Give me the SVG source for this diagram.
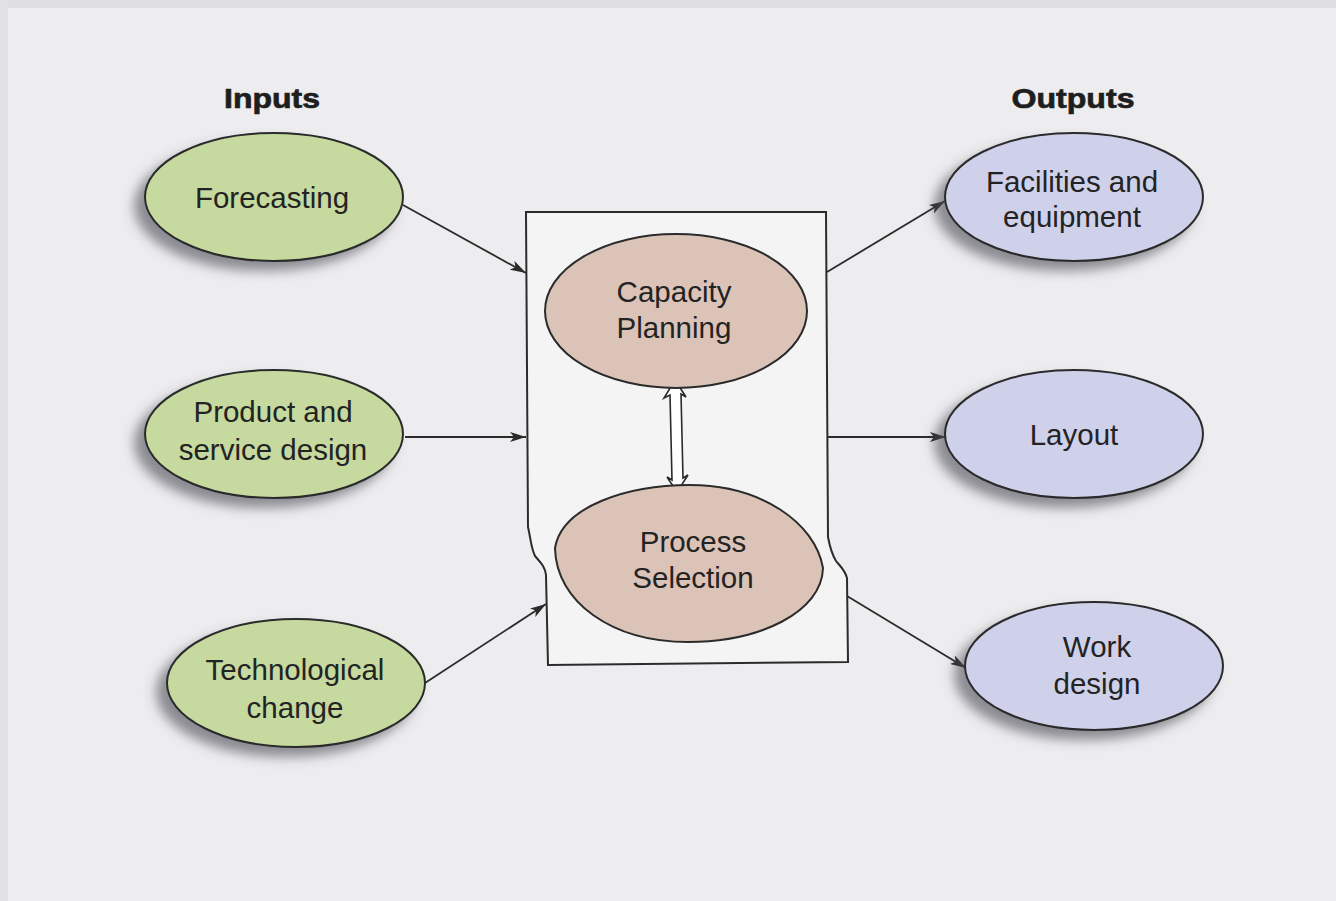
<svg xmlns="http://www.w3.org/2000/svg" width="1336" height="901" viewBox="0 0 1336 901">
  <style>
    .lbl { font-family: "Liberation Sans", Arial, sans-serif; font-size: 29.5px; fill: #232323; text-anchor: middle; }
    .head { font-family: "Liberation Sans", Arial, sans-serif; font-size: 28px; font-weight: bold; fill: #1e1e1e; stroke: #1e1e1e; stroke-width: 0.7; text-anchor: middle; }
    .in { fill: #c6d99f; stroke: #2b2b2b; stroke-width: 2; }
    .out { fill: #cfd0ea; stroke: #2b2b2b; stroke-width: 2; }
    .core { fill: #dbc3b8; stroke: #2b2b2b; stroke-width: 2; }
    .edge { fill: none; stroke: #2b2b2b; stroke-width: 1.8; marker-end: url(#arrow); }
  </style>
  <defs>
    <marker id="arrow" markerUnits="userSpaceOnUse" markerWidth="18" markerHeight="10" refX="16" refY="5" orient="auto">
      <path d="M0,0 L16,5 L0,10 L4,5 Z" fill="#2b2b2b"/>
    </marker>
    <filter id="shadow" x="-20%" y="-20%" width="140%" height="160%">
      <feGaussianBlur in="SourceAlpha" stdDeviation="6"/>
      <feOffset dx="-10" dy="9" result="b"/>
      <feFlood flood-color="#4a4a55" flood-opacity="0.6"/>
      <feComposite in2="b" operator="in"/>
      <feMerge>
        <feMergeNode/>
        <feMergeNode in="SourceGraphic"/>
      </feMerge>
    </filter>
  </defs>

  <!-- page -->
  <rect x="0" y="0" width="1336" height="901" fill="#ededef"/>
  <rect x="0" y="0" width="1336" height="8" fill="#dedee0"/>
  <rect x="0" y="0" width="8" height="901" fill="#e2e2e4"/>

  <!-- column headings -->
  <text class="head" x="272" y="108" textLength="96" lengthAdjust="spacingAndGlyphs">Inputs</text>
  <text class="head" x="1073" y="108" textLength="123" lengthAdjust="spacingAndGlyphs">Outputs</text>

  <!-- central frame holding the two core activities -->
  <g id="core-frame">
    <path d="M526,212 L826,212 L828,537 C830,548 833,556 836,561 C840,566 845,570 847,578 L848,662 L548,665 L546,575 C545,566 540,562 535,556 C531,548 531,540 528,527 Z" fill="#f4f4f5" stroke="#2b2b2b" stroke-width="2"/>
  </g>

  <g id="connectors">
    <line class="edge" x1="403" y1="205" x2="526" y2="273"/>
    <line class="edge" x1="405" y1="437" x2="526" y2="437"/>
    <line class="edge" x1="425" y1="683" x2="546" y2="604"/>
    <line class="edge" x1="827" y1="272" x2="945" y2="201"/>
    <line class="edge" x1="827" y1="437" x2="946" y2="437"/>
    <line class="edge" x1="847" y1="596" x2="966" y2="668"/>
    <!-- hollow two-way arrow between the core activities -->
    <path d="M675,380 L686,397 L681,394 L683,478 L688,475 L677,492 L667,477 L672,480 L670,395 L664,398 Z" fill="#ffffff" stroke="#2b2b2b" stroke-width="1.6" stroke-linejoin="miter"/>
  </g>

  <g id="forecasting">
    <ellipse class="in" cx="274" cy="197" rx="129" ry="64" filter="url(#shadow)"/>
    <text class="lbl" x="272" y="208">Forecasting</text>
  </g>
  <g id="product-service-design">
    <ellipse class="in" cx="274" cy="434" rx="129" ry="64" filter="url(#shadow)"/>
    <text class="lbl" x="273" y="422">Product and</text>
    <text class="lbl" x="273" y="460">service design</text>
  </g>
  <g id="technological-change">
    <ellipse class="in" cx="296" cy="683" rx="129" ry="64" filter="url(#shadow)"/>
    <text class="lbl" x="295" y="680">Technological</text>
    <text class="lbl" x="295" y="718">change</text>
  </g>

  <g id="capacity-planning">
    <ellipse class="core" cx="676" cy="311" rx="131" ry="77"/>
    <text class="lbl" x="674" y="302">Capacity</text>
    <text class="lbl" x="674" y="338">Planning</text>
  </g>
  <g id="process-selection">
    <path class="core" d="M555,548 C562,506 628,485 690,485 C760,485 815,522 823,568 C822,612 760,642 688,642 C612,642 556,602 555,548 Z"/>
    <text class="lbl" x="693" y="552">Process</text>
    <text class="lbl" x="693" y="588">Selection</text>
  </g>

  <g id="facilities-equipment">
    <ellipse class="out" cx="1074" cy="197" rx="129" ry="64" filter="url(#shadow)"/>
    <text class="lbl" x="1072" y="192">Facilities and</text>
    <text class="lbl" x="1072" y="227">equipment</text>
  </g>
  <g id="layout">
    <ellipse class="out" cx="1074" cy="434" rx="129" ry="64" filter="url(#shadow)"/>
    <text class="lbl" x="1074" y="445">Layout</text>
  </g>
  <g id="work-design">
    <ellipse class="out" cx="1094" cy="666" rx="129" ry="64" filter="url(#shadow)"/>
    <text class="lbl" x="1097" y="657">Work</text>
    <text class="lbl" x="1097" y="694">design</text>
  </g>
</svg>
